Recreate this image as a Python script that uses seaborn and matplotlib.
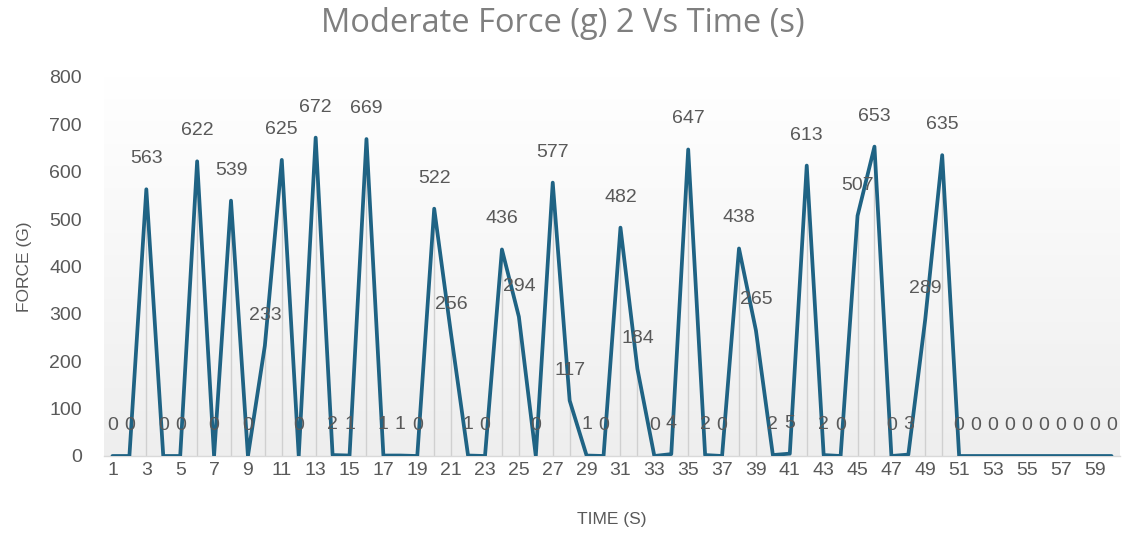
import numpy as np
import pandas as pd
import matplotlib
matplotlib.use("Agg")
import matplotlib.pyplot as plt
from matplotlib.colors import LinearSegmentedColormap
import seaborn as sns

time_s = list(range(1, 61))
force_g = [0, 0, 563, 0, 0, 622, 0, 539, 0, 233,
           625, 0, 672, 2, 1, 669, 1, 1, 0, 522,
           256, 1, 0, 436, 294, 0, 577, 117, 1, 0,
           482, 184, 0, 4, 647, 2, 0, 438, 265, 2,
           5, 613, 2, 0, 507, 653, 0, 3, 289, 635,
           0, 0, 0, 0, 0, 0, 0, 0, 0, 0]
y_ticks = [0, 100, 200, 300, 400, 500, 600, 700, 800]
x_tick_labels = list(range(1, 60, 2))

title = "Moderate Force (g) 2 Vs Time (s)"
x_label = "TIME (S)"
y_label = "FORCE (G)"

df = pd.DataFrame({"time": time_s, "force": force_g})

sns.set_theme(style="white")
plt.rcParams["font.family"] = ["Liberation Sans", "DejaVu Sans"]

fig = plt.figure(figsize=(11.26, 5.39), dpi=100)
ax = fig.add_axes([104 / 1126, 1 - 456 / 539, 1016 / 1126, 379 / 539])

# gradient background in plot area
grad = np.linspace(0, 1, 256).reshape(-1, 1)
cmap = LinearSegmentedColormap.from_list("bg", ["#eeeeee", "#ffffff"])
ax.imshow(grad, aspect="auto", cmap=cmap, origin="lower",
          extent=[0.5, 60.5, 0, 800], zorder=0)

# drop lines
ax.vlines(df["time"], 0, df["force"], color="#d0d0d0", linewidth=1, zorder=1)

sns.lineplot(data=df, x="time", y="force", ax=ax, color="#1f6384",
             linewidth=2.7, zorder=3)

for t, f in zip(time_s, force_g):
    ax.annotate(str(f), (t, f), xytext=(0, 22), textcoords="offset points",
                ha="center", va="center", fontsize=14, color="#595959",
                zorder=4)

ax.set_xlim(0.5, 60.5)
ax.set_ylim(0, 800)
ax.set_yticks(y_ticks)
ax.set_xticks(x_tick_labels)
ax.set_xticklabels([str(v) for v in x_tick_labels])
ax.tick_params(axis="both", length=0, labelsize=14, labelcolor="#595959")
ax.tick_params(axis="x", pad=4)
ax.tick_params(axis="y", pad=16)

for s in ["top", "right", "left"]:
    ax.spines[s].set_visible(False)
ax.spines["bottom"].set_color("#d9d9d9")
ax.spines["bottom"].set_linewidth(1)

ax.set_xlabel(x_label, fontsize=12.5, color="#595959", labelpad=24)
ax.set_ylabel(y_label, fontsize=12.5, color="#595959", labelpad=12)

fig.text(0.5, 1 - 23 / 539, title, ha="center", va="center", fontsize=23.5,
         color="#7f7f7f", family=["Open Sans", "DejaVu Sans"],
         fontweight="medium")

fig.savefig("out.png", dpi=100, facecolor="white")
